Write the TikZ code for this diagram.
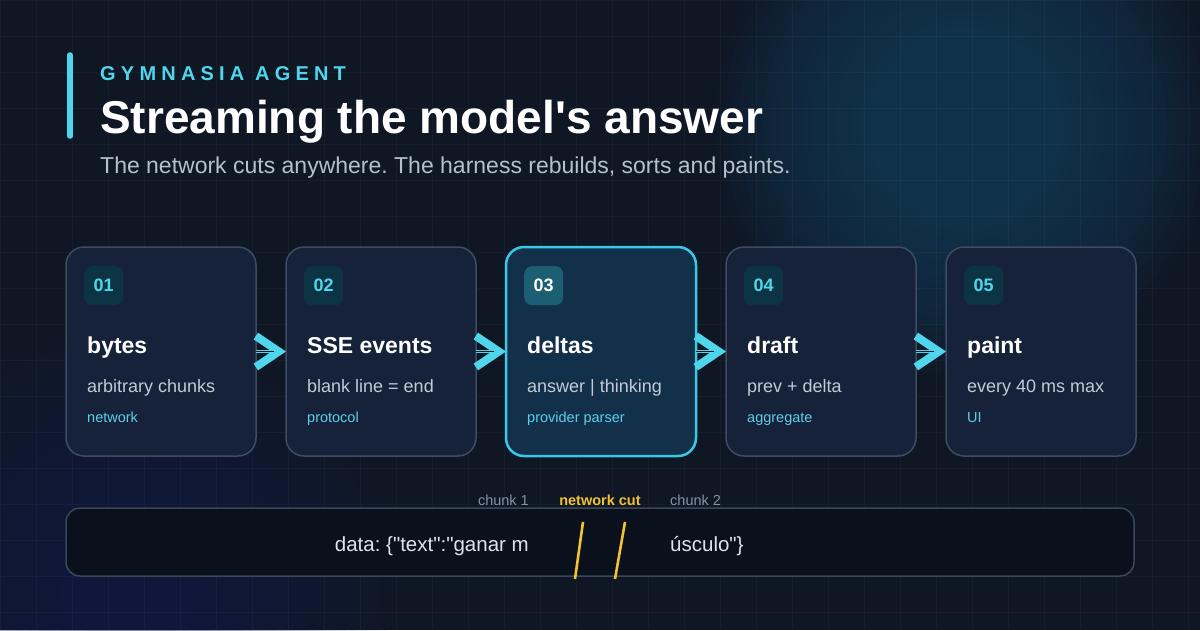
\documentclass[tikz,border=0pt]{standalone}
\usepackage{fontspec}
\setmainfont{Liberation Sans}
\newfontfamily\uifont{Liberation Sans}
\usetikzlibrary{calc,positioning,arrows.meta}
\definecolor{bgcol}{HTML}{0F1624}
\definecolor{glowcol}{HTML}{13405C}
\definecolor{glowlow}{HTML}{22305A}
\definecolor{boxfill}{HTML}{16223A}
\definecolor{boxline}{HTML}{3E4C61}
\definecolor{hlfill}{HTML}{13304A}
\definecolor{hlline}{HTML}{3AC8E6}
\definecolor{accent}{HTML}{4FD6EC}
\definecolor{tagcol}{HTML}{5CCFE6}
\definecolor{badgecol}{HTML}{0D3444}
\definecolor{badgehl}{HTML}{1C5E72}
\definecolor{desccol}{HTML}{C2CAD5}
\definecolor{subcol}{HTML}{B6C0CD}
\definecolor{stripfill}{HTML}{0B111C}
\definecolor{stripline}{HTML}{3A4659}
\definecolor{cutcol}{HTML}{F2C232}
\definecolor{labelcol}{HTML}{8791A1}
\definecolor{datacol}{HTML}{DDE3EC}
\newcommand{\fs}[1]{\uifont\fontsize{#1}{#1}\selectfont}
\frenchspacing

\begin{document}
\begin{tikzpicture}[x=1pt,y=-1pt,
    stepbox/.style={draw=boxline, line width=1.5pt, fill=boxfill, rounded corners=18pt,
      minimum width=190pt, minimum height=209pt, inner sep=0pt, outer sep=0pt},
    hlbox/.style={stepbox, draw=hlline, line width=2.5pt, fill=hlfill},
    badge/.style={fill=badgecol, rounded corners=8pt, minimum size=39pt, inner sep=0pt,
      anchor=north west, text=accent, font=\fs{18}\bfseries},
    steptitle/.style={anchor=base west, inner sep=0pt, text=white, font=\fs{23}\bfseries},
    stepdesc/.style={anchor=base west, inner sep=0pt, text=desccol, font=\fs{18}},
    steptag/.style={anchor=base west, inner sep=0pt, text=tagcol, font=\fs{14.5}},
    flow/.style={draw=accent, line width=3.5pt,
      -{Straight Barb[length=23pt,width=31pt,line width=8pt]},
      postaction={draw=bgcol, line width=1.2pt, -, shorten >=12pt}},
    cutlabel/.style={inner sep=0pt, text=labelcol, font=\fs{14.5}},
    chunk/.style={inner sep=0pt, text=datacol, font=\fs{20.5}},
    cut/.style={draw=cutcol, line width=2.6pt}]

  % background, glows and grid
  \useasboundingbox (0,0) rectangle (1200,630);
  \clip (0,0) rectangle (1200,630);
  \fill[bgcol] (0,0) rectangle (1200,630);
  \foreach \r in {250,242,...,90}
    \fill[glowcol, fill opacity=0.07] (965,125) circle (\r);
  \foreach \r in {260,250,...,60}
    \fill[glowlow, fill opacity=0.04] (130,590) circle (\r);
  \draw[white, opacity=0.035, line width=0.8pt] (0,0) grid[step=36pt] (1200,630);

  % header
  \draw[accent, line width=5.5pt, line cap=round] (70,55) -- (70,136);
  \node[anchor=base west, inner sep=0pt, text=accent, font=\fs{20}\bfseries] (kicker)
    at (100,80) {\addfontfeature{LetterSpace=26}GYMNASIA AGENT};
  \node[anchor=base west, inner sep=0pt, text=white, font=\fs{46}\bfseries] (title)
    at (100,133) {Streaming the model's answer};
  \node[anchor=base west, inner sep=0pt, text=subcol, font=\fs{23}] (sub)
    at (100,173) {The network cuts anywhere. The harness rebuilds, sorts and paints.};

  % pipeline stages
  \node[stepbox] (B1) at (161,351.5) {};
  \node[stepbox, right=30pt of B1] (B2) {};
  \node[hlbox, right=30pt of B2] (B3) {};
  \node[stepbox, right=30pt of B3] (B4) {};
  \node[stepbox, right=30pt of B4] (B5) {};

  \node[badge] (N1) at ($(B1.north west)+(18,19)$) {01};
  \node[steptitle] (T1) at ($(B1.north west)+(21,106)$) {bytes};
  \node[stepdesc] (D1) at ($(B1.north west)+(21,145)$) {arbitrary chunks};
  \node[steptag] (G1) at ($(B1.north west)+(21,175)$) {network};

  \node[badge] (N2) at ($(B2.north west)+(18,19)$) {02};
  \node[steptitle] (T2) at ($(B2.north west)+(21,106)$) {SSE events};
  \node[stepdesc] (D2) at ($(B2.north west)+(21,145)$) {blank line = end};
  \node[steptag] (G2) at ($(B2.north west)+(21,175)$) {protocol};

  \node[badge, fill=badgehl, text=white] (N3) at ($(B3.north west)+(18,19)$) {03};
  \node[steptitle] (T3) at ($(B3.north west)+(21,106)$) {deltas};
  \node[stepdesc] (D3) at ($(B3.north west)+(21,145)$) {answer | thinking};
  \node[steptag] (G3) at ($(B3.north west)+(21,175)$) {provider parser};

  \node[badge] (N4) at ($(B4.north west)+(18,19)$) {04};
  \node[steptitle] (T4) at ($(B4.north west)+(21,106)$) {draft};
  \node[stepdesc] (D4) at ($(B4.north west)+(21,145)$) {prev + delta};
  \node[steptag] (G4) at ($(B4.north west)+(21,175)$) {aggregate};

  \node[badge] (N5) at ($(B5.north west)+(18,19)$) {05};
  \node[steptitle] (T5) at ($(B5.north west)+(21,106)$) {paint};
  \node[stepdesc] (D5) at ($(B5.north west)+(21,145)$) {every 40 ms max};
  \node[steptag] (G5) at ($(B5.north west)+(21,175)$) {UI};

  \draw[flow] (B1) -- (B2);
  \draw[flow] (B2) -- (B3);
  \draw[flow] (B3) -- (B4);
  \draw[flow] (B4) -- (B5);

  % the cut stream
  \node[draw=stripline, line width=1.5pt, fill=stripfill, rounded corners=14pt,
    minimum width=1068pt, minimum height=68pt] (S) at (600,542) {};
  \node[chunk, anchor=base east] (C1) at (529,551) {data: \{"text":"ganar m};
  \node[chunk, anchor=base west] (C2) at (670,551) {úsculo"\}};
  \node[cutlabel, anchor=base east] (L1) at (529,505) {chunk 1};
  \node[cutlabel, anchor=base, text=cutcol, font=\fs{14.5}\bfseries] (L0) at (600,505) {network cut};
  \node[cutlabel, anchor=base west] (L2) at (670,505) {chunk 2};
  \draw[cut] (583,522) -- (575,579);
  \draw[cut] (625,522) -- (615,579);
\end{tikzpicture}
\end{document}
